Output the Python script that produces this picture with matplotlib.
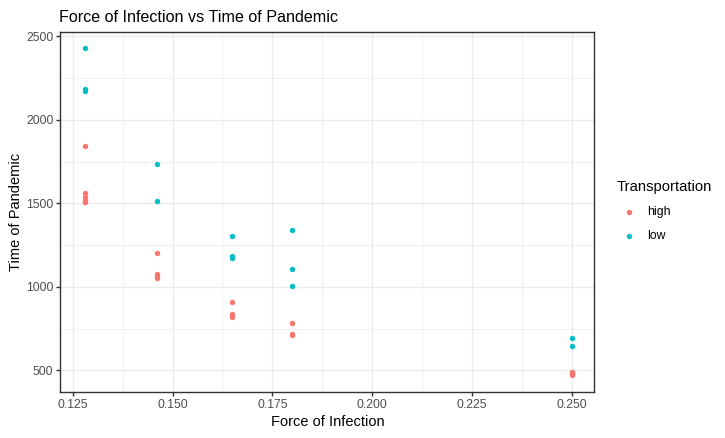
import matplotlib.pyplot as plt
from matplotlib.ticker import MultipleLocator

plt.rcParams['font.family'] = ['Liberation Sans', 'DejaVu Sans']

# values
high_x = [0.128, 0.128, 0.128, 0.128, 0.128, 0.128,
          0.146, 0.146, 0.146, 0.146,
          0.165, 0.165, 0.165, 0.165,
          0.180, 0.180, 0.180,
          0.250, 0.250, 0.250, 0.250]
high_y = [1841, 1560, 1535, 1520, 1510, 1505,
          1201, 1075, 1062, 1052,
          907, 840, 830, 822,
          781, 720, 710,
          490, 482, 476, 470]
low_x = [0.128, 0.128, 0.128,
         0.146, 0.146,
         0.165, 0.165, 0.165,
         0.180, 0.180, 0.180,
         0.250, 0.250]
low_y = [2428, 2182, 2174,
         1733, 1512,
         1302, 1182, 1175,
         1338, 1105, 1003,
         692, 644]

col_high = '#F8766D'
col_low = '#00BFC4'

fig = plt.figure(figsize=(7.25, 4.38), dpi=100)
ax = fig.add_axes([0.0832, 0.1057, 0.7366, 0.8219])

ax.scatter(high_x, high_y, s=15, color=col_high, label='high', zorder=3, linewidths=0)
ax.scatter(low_x, low_y, s=15, color=col_low, label='low', zorder=3, linewidths=0)

ax.set_xlim(0.1219, 0.2556)
ax.set_ylim(372, 2527)
ax.xaxis.set_major_locator(MultipleLocator(0.025))
ax.xaxis.set_minor_locator(MultipleLocator(0.0125))
ax.yaxis.set_major_locator(MultipleLocator(500))
ax.yaxis.set_minor_locator(MultipleLocator(250))
ax.xaxis.set_major_formatter(plt.FuncFormatter(lambda v, p: f"{v:.3f}"))

ax.grid(which='major', color='#EBEBEB', linewidth=1.0)
ax.grid(which='minor', color='#EBEBEB', linewidth=0.5)
ax.set_axisbelow(True)
for sp in ax.spines.values():
    sp.set_color('#333333')
    sp.set_linewidth(1.0)
ax.tick_params(which='major', length=3, width=1, color='#333333',
               labelsize=8.8, labelcolor='#4D4D4D', pad=2)
ax.tick_params(which='minor', length=0)

ax.set_xlabel('Force of Infection', fontsize=10.5, color='black', labelpad=3)
ax.set_ylabel('Time of Pandemic', fontsize=10.5, color='black', labelpad=2)
ax.set_title('Force of Infection vs Time of Pandemic', fontsize=11.6,
             loc='left', x=-0.002, pad=7)

leg = fig.legend(handles=ax.collections, labels=['high', 'low'],
                 loc='center left', bbox_to_anchor=(0.835, 0.518),
                 frameon=False, title='Transportation', fontsize=8.8,
                 title_fontsize=10.6, handletextpad=0.5, labelspacing=1.0,
                 markerscale=1.0)
leg._legend_box.align = 'left'

fig.savefig('out.png', dpi=100)
